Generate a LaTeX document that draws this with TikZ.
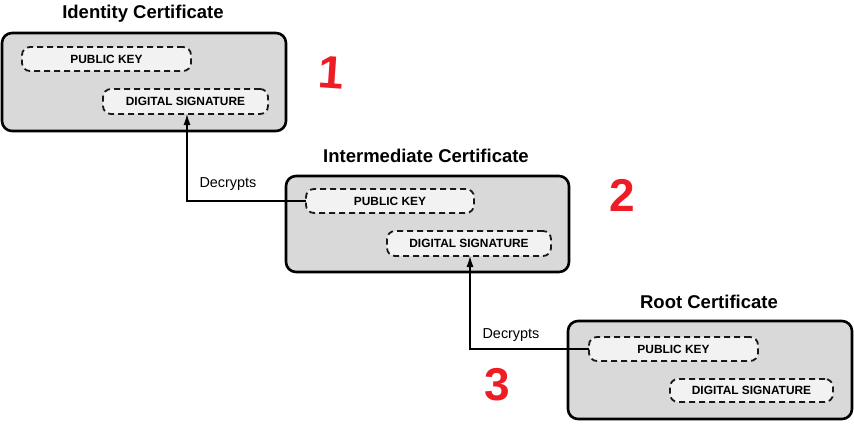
\documentclass[tikz,border=0pt]{standalone}
\usepackage{fontspec}
\setmainfont{Liberation Sans}
\usetikzlibrary{arrows.meta}
\definecolor{certgray}{HTML}{D9D9D9}
\definecolor{fieldgray}{HTML}{F2F2F2}
\definecolor{handred}{HTML}{EE1C25}
\begin{document}
\begin{tikzpicture}[x=1pt,y=-1pt,
  cert/.style 2 args={draw=black, line width=2.6pt, fill=certgray, rounded corners=10pt,
    minimum width=#1, minimum height=#2, inner sep=0pt, outer sep=0pt},
  field/.style 2 args={draw=black!90, line width=1.8pt, dash pattern=on 6pt off 4pt,
    fill=fieldgray, rounded corners=8pt, minimum width=#1, minimum height=#2,
    inner sep=0pt, outer sep=0pt, font=\bfseries\fontsize{11.9}{14}\selectfont},
  title/.style={font=\bfseries\fontsize{18.5}{22}\selectfont},
  conn/.style={draw=black, line width=1.2pt, -{Latex[length=11pt,width=7pt]}},
  lbl/.style={font=\fontsize{14.4}{17}\selectfont},
  num/.style={text=handred, font=\bfseries\fontsize{46}{50}\selectfont}
]
\useasboundingbox (0,0) rectangle (854,423);

% Certificates
\node[cert={284pt}{98pt}] (C1) at (144,82) {};
\node[cert={283pt}{96pt}] (C2) at (427.5,224) {};
\node[cert={284pt}{98pt}] (C3) at (710,370) {};

% Titles
\node[title] (T1) at (143,14) {Identity Certificate};
\node[title] (T2) at (426,156) {Intermediate Certificate};
\node[title] (T3) at (709,302) {Root Certificate};

% Fields
\node[field={169pt}{24pt}] (PK1) at (106.5,59) {PUBLIC KEY};
\node[field={165pt}{25pt}] (DS1) at (185.5,101.5) {DIGITAL SIGNATURE};
\node[field={168pt}{24pt}] (PK2) at (390,201) {PUBLIC KEY};
\node[field={164pt}{25pt}] (DS2) at (469,243.5) {DIGITAL SIGNATURE};
\node[field={169pt}{24pt}] (PK3) at (673.5,349) {PUBLIC KEY};
\node[field={163pt}{23pt}] (DS3) at (751.5,390.5) {DIGITAL SIGNATURE};

% Connectors
\draw[conn] (PK2.west) -| ([xshift=1.5pt]DS1.south);
\draw[conn] (PK3.west) -| ([xshift=1pt]DS2.south);
\node[lbl] (L1) at (228,184) {Decrypts};
\node[lbl] (L2) at (511,335) {Decrypts};

% Hand-written numbers
\node[num, rotate=-4] (N1) at (331,73) {1};
\node[num] (N2) at (622,195) {2};
\node[num] (N3) at (497,385) {3};
\end{tikzpicture}
\end{document}
